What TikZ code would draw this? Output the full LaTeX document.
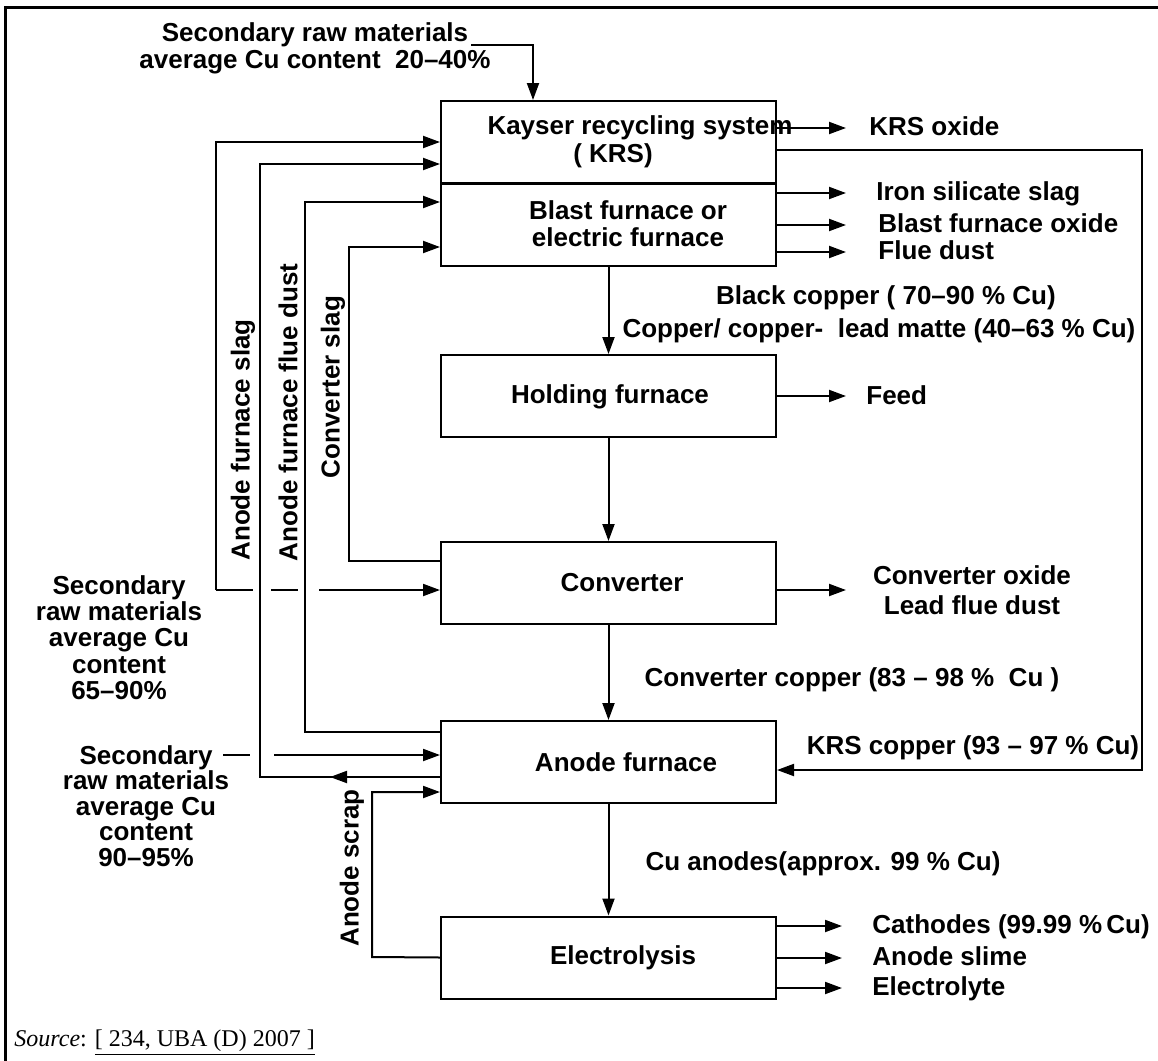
\documentclass[tikz,border=0pt]{standalone}
\usepackage{fontspec}
\setmainfont{Liberation Sans}
\newfontfamily\srcfont{Liberation Serif}
\usepackage{tikz}
\usetikzlibrary{arrows.meta}
\tikzset{
  box/.style={draw, line width=1pt, minimum width=167.5pt, minimum height=41pt, inner sep=0pt},
  lbl/.style={inner sep=0pt, align=center, font=\fontsize{13}{13.5}\selectfont\bfseries},
  outtxt/.style={lbl, anchor=west, text height=9.5pt, text depth=2.5pt},
  flow/.style={line width=1pt, -{Triangle[length=8.5pt,width=6pt]}},
  wire/.style={line width=1pt},
}

\begin{document}
\begin{tikzpicture}[x=0.5pt, y=-0.5pt]
      \useasboundingbox (0,0) rectangle (1158,1061);

      % Frame (top and left only)
      \draw[line width=1.5pt] (1158,7) -- (5,7) -- (5,1061);

      % Process boxes
      \node[box] (krs) at (608.5,142) {};
      \node[box] (blast) at (608.5,224.5) {};
      \node[box] (hold) at (608.5,396) {};
      \node[box] (conv) at (608.5,583) {};
      \node[box] (anode) at (608.5,762) {};
      \node[box] (elec) at (608.5,957.5) {};

      % Box texts
      \node[lbl] (krs-a) at (640,128) {Kayser recycling system};
      \node[lbl] (krs-b) at (613,156) {( KRS)};
      \node[lbl] (blast-t) at (628,223.5) {Blast furnace or\\electric furnace};
      \node[lbl] (hold-t) at (610,397) {Holding furnace};
      \node[lbl] (conv-t) at (622,583) {Converter};
      \node[lbl] (anode-t) at (626,762) {Anode furnace};
      \node[lbl] (elec-t) at (623,958) {Electrolysis};

      % Outputs on the right
      \coordinate (tipR) at (846,0);
      \node[outtxt] (krsox) at (869,128) {KRS oxide};
      \node[outtxt] (iss) at (876,193) {Iron silicate slag};
      \node[outtxt] (bfo) at (878,225) {Blast furnace oxide};
      \node[outtxt] (fdust) at (878,252) {Flue dust};
      \node[outtxt] (feed) at (866,397) {Feed};
      \node[lbl] (cox) at (972,590) {Converter oxide\\[1.5pt]Lead flue dust};
      \node[outtxt] (cath) at (872,926) {Cathodes (99.99 \%\,Cu)};
      \node[outtxt] (slime) at (872,958) {Anode slime};
      \node[outtxt] (lyte) at (872,988) {Electrolyte};

      \draw[flow] (krs.east |- krsox) -- (krsox -| tipR);
      \draw[flow] (blast.east |- iss) -- (iss -| tipR);
      \draw[flow] (blast.east |- bfo) -- (bfo -| tipR);
      \draw[flow] (blast.east |- fdust) -- (fdust -| tipR);
      \draw[flow] (hold.east) -- (hold.east -| tipR);
      \draw[flow] (conv.east |- cox) -- (cox -| tipR);
      \coordinate (tipE) at (842,0);
      \draw[flow] (elec.east |- cath) -- (cath -| tipE);
      \draw[flow] (elec.east |- slime) -- (slime -| tipE);
      \draw[flow] (elec.east |- lyte) -- (lyte -| tipE);

      % Main flow downwards
      \draw[flow] (blast.south) -- (hold.north);
      \draw[flow] (hold.south) -- (conv.north);
      \draw[flow] (conv.south) -- (anode.north);
      \draw[flow] (anode.south) -- (elec.north);
      \node[lbl] (blk) at (886,298) {Black copper ( 70–90 \% Cu)};
      \node[lbl] (matte) at (879,331) {Copper/ copper-\ \ lead matte (40–63 \% Cu)};
      \node[lbl] (ccu) at (852,680) {Converter copper (83 – 98 \%\ \ Cu )};
      \node[lbl] (anodes) at (823,864) {Cu anodes(approx. 99 \% Cu)};

      % KRS copper back to the anode furnace
      \coordinate (krsR) at (1142,150);
      \coordinate (krsRb) at (1142,770);
      \draw[flow] (krsR -| krs.east) -- (krsR) -- (krsRb) -- (krsRb -| anode.east);
      \node[lbl] (krscu) at (973,748) {KRS copper (93 – 97 \% Cu)};

      % Secondary raw materials into the KRS
      \node[lbl] (sec0) at (315,48) {Secondary raw materials\\average Cu content\ \ 20–40\%};
      \coordinate (sec0L) at (471,45);
      \coordinate (sec0R) at (533,45);
      \draw[flow] (sec0L) -- (sec0R) -- (sec0R |- krs.north);

      % Returns on the left
      \coordinate (slagB) at (216,590);
      \coordinate (slagT) at (216,142);
      \draw[flow] (slagB) -- (slagT) -- (slagT -| krs.west);

      \coordinate (dustB) at (260,777);
      \coordinate (dustT) at (260,164);
      \coordinate (dustM) at (330,777);
      \draw[flow] (dustB -| anode.west) -- (dustB) -- (dustT) -- (dustT -| krs.west);
      \draw[flow] (dustB -| anode.west) -- (dustM);

      \coordinate (fdB) at (305,732);
      \coordinate (fdT) at (305,202);
      \draw[flow] (fdB -| anode.west) -- (fdB) -- (fdT) -- (fdT -| blast.west);

      \coordinate (cslB) at (349,561);
      \coordinate (cslT) at (349,247);
      \draw[flow] (cslB -| conv.west) -- (cslB) -- (cslT) -- (cslT -| blast.west);

      \coordinate (scrB) at (372,957);
      \coordinate (scrT) at (372,792);
      \draw[flow] (elec.west) -- (scrB) -- (scrT) -- (scrT -| anode.west);

      \node[lbl, rotate=90] (slag-t) at (243,440) {Anode furnace slag};
      \node[lbl, rotate=90] (dust-t) at (288,412.5) {Anode furnace flue dust};
      \node[lbl, rotate=90] (csl-t) at (333,387) {Converter slag};
      \node[lbl, rotate=90] (scr-t) at (352,868) {Anode scrap};

      % Secondary raw materials into converter and anode furnace
      \node[lbl, font=\fontsize{13}{13.1}\selectfont\bfseries] (sec1) at (119,637.5) {Secondary\\raw materials\\average Cu\\content\\65–90\%};
      \draw[flow, dash pattern=on 18.5pt off 9pt on 13.5pt off 10.5pt on 300pt] (slagB) -- (slagB -| conv.west);

      \node[lbl, font=\fontsize{13}{12.75}\selectfont\bfseries] (sec2) at (146,806) {Secondary\\raw materials\\average Cu\\content\\90–95\%};
      \coordinate (sec2R) at (223,755);
      \draw[flow, dash pattern=on 13.5pt off 12pt on 300pt] (sec2R) -- (sec2R -| anode.west);

      % Source
      \node[anchor=west, inner sep=0pt, font=\srcfont\fontsize{12}{14}\selectfont] (src) at (14,1043) {\textit{Source}: \underline{[ 234, UBA (D) 2007 ]}};
\end{tikzpicture}
\end{document}
